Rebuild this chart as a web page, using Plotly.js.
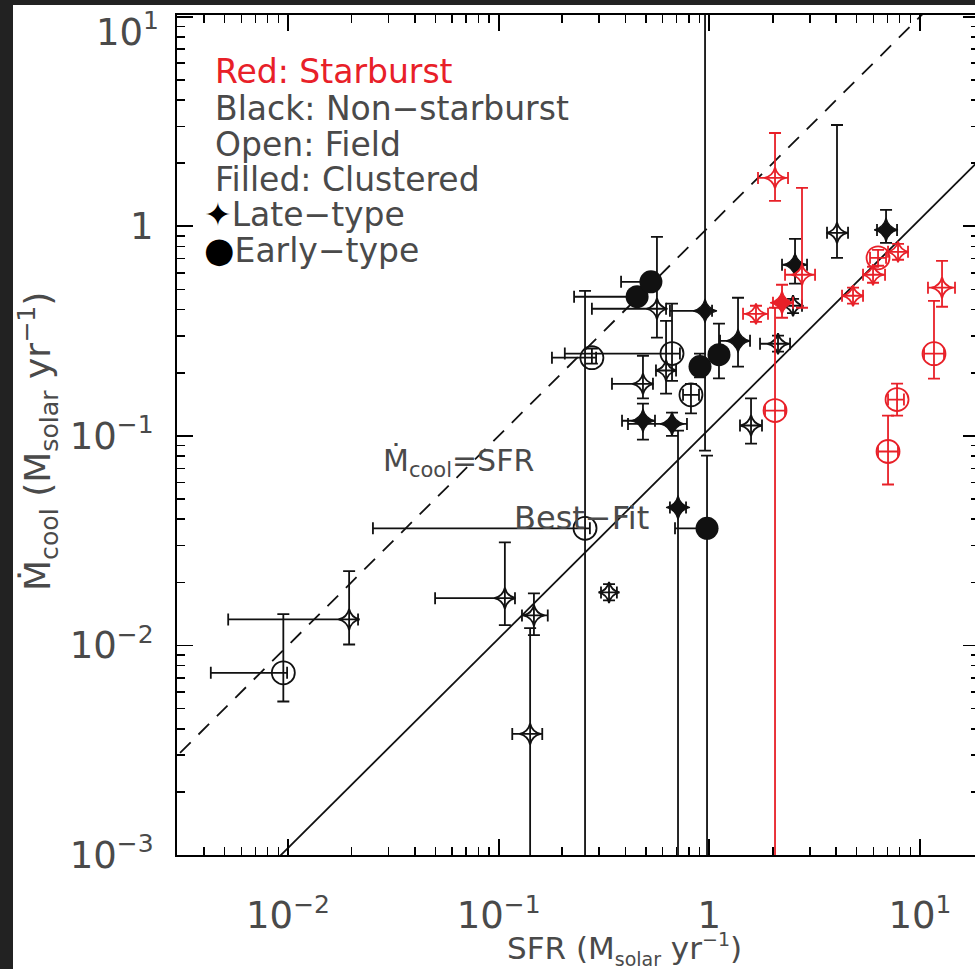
<!DOCTYPE html>
<html><head><meta charset="utf-8">
<script src="https://cdn.plot.ly/plotly-3.0.1.min.js"></script>
<style>
html,body{margin:0;padding:0;background:#222;overflow:hidden;width:975px;height:969px;}
#chart{position:absolute;left:13px;top:5px;width:966px;height:964px;background:#fff;}
</style></head><body><div id="chart"></div>
<script>
// ---- Black open circles: non-starburst, field, early-type ----
const bocX   = [0.0095, 0.257, 0.277, 0.665, 0.818];
const bocY   = [0.0074, 0.0362, 0.236, 0.247, 0.157];
const bocXlo = [0.0043, 0.0253, 0.179, 0.206, 0.750];
const bocXhi = [0.0099, 0.271, 0.290, 0.725, 0.893];
const bocYlo = [0.0054, 1e-5, 0.221, 0.183, 0.128];
const bocYhi = [0.0141, 0.492, 0.261, 0.427, 0.177];

// ---- Black filled circles: non-starburst, clustered, early-type ----
const bfcX   = [0.454, 0.528, 0.903, 1.111, 0.975];
const bfcY   = [0.461, 0.543, 0.214, 0.244, 0.0362];
const bfcXlo = [0.228, 0.381, 0.86, 1.06, 0.687];
const bfcXhi = [0.47, 0.55, 0.95, 1.17, 0.99];
const bfcYlo = [0.44, 0.52, 0.19, 0.188, 1e-5];
const bfcYhi = [0.48, 0.57, 0.247, 0.343, 0.0805];

// ---- Black open stars: non-starburst, field, late-type ----
const bosX   = [0.0195, 0.107, 0.147, 0.141, 0.334, 0.564, 0.623, 0.484, 2.118, 4.036, 1.577, 2.496];
const bosY   = [0.0133, 0.0168, 0.0139, 0.00378, 0.0179, 0.404, 0.205, 0.177, 0.275, 0.930, 0.112, 0.4175];
const bosXlo = [0.0052, 0.0499, 0.129, 0.116, 0.306, 0.277, 0.558, 0.345, 1.740, 3.619, 1.398, 2.213];
const bosXhi = [0.0215, 0.1195, 0.171, 0.161, 0.364, 0.623, 0.695, 0.540, 2.416, 4.553, 1.778, 2.753];
const bosYlo = [0.0101, 0.0125, 0.0112, 1e-5, 0.0164, 0.294, 0.159, 0.151, 0.252, 0.707, 0.0919, 0.385];
const bosYhi = [0.0226, 0.031, 0.0177, 0.0121, 0.0196, 0.890, 0.354, 0.241, 0.301, 3.042, 0.151, 0.45];

// ---- Black filled stars: non-starburst, clustered, late-type ----
const bfsX   = [0.954, 0.484, 0.665, 0.710, 1.368, 2.551, 6.899];
const bfsY   = [0.395, 0.118, 0.114, 0.0455, 0.284, 0.655, 0.961];
const bfsXlo = [0.650, 0.385, 0.411, 0.650, 1.124, 2.213, 6.25];
const bfsXhi = [1.03, 0.552, 0.783, 0.775, 1.560, 2.909, 7.78];
const bfsYlo = [0.085, 0.096, 0.100, 1e-5, 0.214, 0.532, 0.834];
const bfsYhi = [100, 0.1425, 0.129, 0.106, 0.456, 0.871, 1.197];

// ---- Red open stars: starburst, field, late-type ----
const rosX   = [2.050, 2.753, 1.665, 4.808, 5.984, 7.864, 12.72];
const rosY   = [1.701, 0.587, 0.382, 0.466, 0.587, 0.755, 0.509];
const rosXlo = [1.702, 2.287, 1.445, 4.264, 5.364, 7.05, 10.91];
const rosXhi = [2.363, 3.175, 1.899, 5.364, 6.823, 8.77, 14.66];
const rosYlo = [1.321, 0.4085, 0.350, 0.427, 0.5375, 0.692, 0.413];
const rosYhi = [2.786, 1.524, 0.4175, 0.509, 0.641, 0.8245, 0.684];

// ---- Red filled stars: starburst, clustered, late-type ----
const rfsX   = [2.213];
const rfsY   = [0.4315];
const rfsXlo = [2.005];
const rfsXhi = [2.496];
const rfsYlo = [0.366];
const rfsYhi = [0.526];

// ---- Red open circles: starburst, field, early-type ----
const rocX   = [2.050, 6.321, 11.65, 7.78, 7.05];
const rocY   = [0.132, 0.707, 0.2466, 0.149, 0.0842];
const rocXlo = [1.838, 5.79, 10.45, 7.05, 6.32];
const rocXhi = [2.287, 6.899, 13.0, 8.39, 7.86];
const rocYlo = [1e-5, 0.648, 0.1875, 0.125, 0.0586];
const rocYhi = [0.4085, 0.772, 0.441, 0.1774, 0.125];

// ---- Reference relations ----
const bestFitCoef = 0.108;   // best fit: Mcool = 0.108 * SFR
const lineSFR = [1e-4, 1e3];

// ---- Axis ticks ----
const SUP = s => '<sup><span style="font-size:25px">' + s + '</span></sup>';
const xTickVals = [0.01, 0.1, 1, 10];
const xTickText = ['10' + SUP('\u22122'), '10' + SUP('\u22121'), '1', '10' + SUP('1')];
const yTickVals = [0.001, 0.01, 0.1, 1, 10];
const yTickText = ['10' + SUP('\u22123'), '10' + SUP('\u22122'), '10' + SUP('\u22121'), '1', ''];
const yTopLabel = '10' + SUP('1');   // top label sits just inside the frame, as in the original

const minorVals = [];
for (let d = -4; d <= 2; d++) for (let m = 2; m <= 9; m++) minorVals.push(m * Math.pow(10, d));

const RED = 'rgb(232,32,40)';
const BLK = '#111';
const FONT = '"DejaVu Sans", sans-serif';
const TXT = '#4a4a4a';

function diff(a, b) { return a.map((v, i) => v - b[i]); }

function group(x, y, xlo, xhi, ylo, yhi, symbol, size, color, lw) {
  return {
    type: 'scatter', mode: 'markers', x: x, y: y, hoverinfo: 'skip',
    marker: {symbol: symbol, size: size, color: color, line: {color: color, width: lw}},
    error_x: {type: 'data', symmetric: false, array: diff(xhi, x), arrayminus: diff(x, xlo),
              color: color, thickness: 1.8, width: 6},
    error_y: {type: 'data', symmetric: false, array: diff(yhi, y), arrayminus: diff(y, ylo),
              color: color, thickness: 1.8, width: 6}
  };
}

const traces = [
  {type: 'scatter', mode: 'lines', x: lineSFR, y: lineSFR, hoverinfo: 'skip',
   line: {color: '#111', width: 1.8, dash: '15px,11px'}},
  {type: 'scatter', mode: 'lines', x: lineSFR, y: lineSFR.map(v => bestFitCoef * v), hoverinfo: 'skip',
   line: {color: '#111', width: 1.8}},
  group(bocX, bocY, bocXlo, bocXhi, bocYlo, bocYhi, 'circle-open', 23, BLK, 1.8),
  group(bosX, bosY, bosXlo, bosXhi, bosYlo, bosYhi, 'star-diamond-open', 15, BLK, 1.8),
  group(bfsX, bfsY, bfsXlo, bfsXhi, bfsYlo, bfsYhi, 'star-diamond', 17, BLK, 1.2),
  group(bfcX, bfcY, bfcXlo, bfcXhi, bfcYlo, bfcYhi, 'circle', 23, BLK, 0),
  group(rosX, rosY, rosXlo, rosXhi, rosYlo, rosYhi, 'star-diamond-open', 15, RED, 1.8),
  group(rfsX, rfsY, rfsXlo, rfsXhi, rfsYlo, rfsYhi, 'star-diamond', 17, RED, 1.2),
  group(rocX, rocY, rocXlo, rocXhi, rocYlo, rocYhi, 'circle-open', 23, RED, 1.8)
];

const axisCommon = {
  type: 'log', tickmode: 'array', ticks: 'inside', ticklen: 16, tickwidth: 1.8, tickcolor: '#000',
  showline: true, linewidth: 2, linecolor: '#000', mirror: 'allticks', showgrid: false, zeroline: false,
  ticklabeloverflow: 'allow',
  tickfont: {family: FONT, size: 37, color: TXT},
  minor: {tickmode: 'array', tickvals: minorVals, ticks: 'inside', ticklen: 8, tickwidth: 1.5,
          tickcolor: '#000', showgrid: false}
};

const legendRows = [
  {t: 'Red: Starburst', c: RED, py: 72, px: 213},
  {t: 'Black: Non\u2212starburst', c: TXT, py: 108, px: 213},
  {t: 'Open: Field', c: TXT, py: 144, px: 213},
  {t: 'Filled: Clustered', c: TXT, py: 180, px: 213},
  {t: '<span style="color:#000">\u2726</span>Late\u2212type', c: TXT, py: 214, px: 202},
  {t: '<span style="color:#000;font-size:35px">\u25CF</span>Early\u2212type', c: TXT, py: 250, px: 202}
];
const PL = 177, PW = 802, PB = 855, PH = 840;
const annotations = legendRows.map(r => ({
  xref: 'paper', yref: 'paper', x: (r.px - PL) / PW, y: (PB - r.py) / PH,
  xanchor: 'left', yanchor: 'middle', showarrow: false, text: r.t,
  font: {family: FONT, size: 33, color: r.c}
}));
annotations.push(
  {xref: 'paper', yref: 'paper', x: (161 - PL) / PW, y: (PB - 30) / PH, xanchor: 'right', yanchor: 'middle',
   showarrow: false, text: yTopLabel, font: {family: FONT, size: 37, color: TXT}},
  {xref: 'paper', yref: 'paper', x: (381 - PL) / PW, y: (PB - 462) / PH, xanchor: 'left', yanchor: 'middle',
   showarrow: false, text: '\u1E40<sub>cool</sub>=SFR', font: {family: FONT, size: 30, color: TXT}},
  {xref: 'paper', yref: 'paper', x: (512 - PL) / PW, y: (PB - 518) / PH, xanchor: 'left', yanchor: 'middle',
   showarrow: false, text: 'Best\u2212Fit', font: {family: FONT, size: 32, color: TXT}},
  {xref: 'paper', yref: 'paper', x: (624 - PL) / PW, y: (PB - 949) / PH, xanchor: 'center', yanchor: 'middle',
   showarrow: false,
   text: 'SFR (M<sub><span style="font-size:19px">solar</span></sub> yr<sup><span style="font-size:19px">\u22121</span></sup>)',
   font: {family: FONT, size: 31, color: TXT}},
  {xref: 'paper', yref: 'paper', x: (38 - PL) / PW, y: (PB - 442) / PH, xanchor: 'center', yanchor: 'middle',
   textangle: -90, showarrow: false,
   text: '\u1E40<sub>cool</sub> (M<sub>solar</sub> yr<sup>\u22121</sup>)',
   font: {family: FONT, size: 36, color: TXT}}
);

const layout = {
  width: 966, height: 964,
  margin: {l: 164, r: 0, t: 10, b: 114, pad: 0},
  paper_bgcolor: '#fff', plot_bgcolor: '#fff',
  showlegend: false,
  xaxis: Object.assign({}, axisCommon, {range: [-2.527, 1.280], tickvals: xTickVals, ticktext: xTickText,
                       ticklabelstandoff: 27}),
  yaxis: Object.assign({}, axisCommon, {range: [-3, 1.008], tickvals: yTickVals, ticktext: yTickText,
                       ticklabelstandoff: 14}),
  annotations: annotations
};

Plotly.newPlot('chart', traces, layout, {staticPlot: true, displayModeBar: false});
</script></body></html>
